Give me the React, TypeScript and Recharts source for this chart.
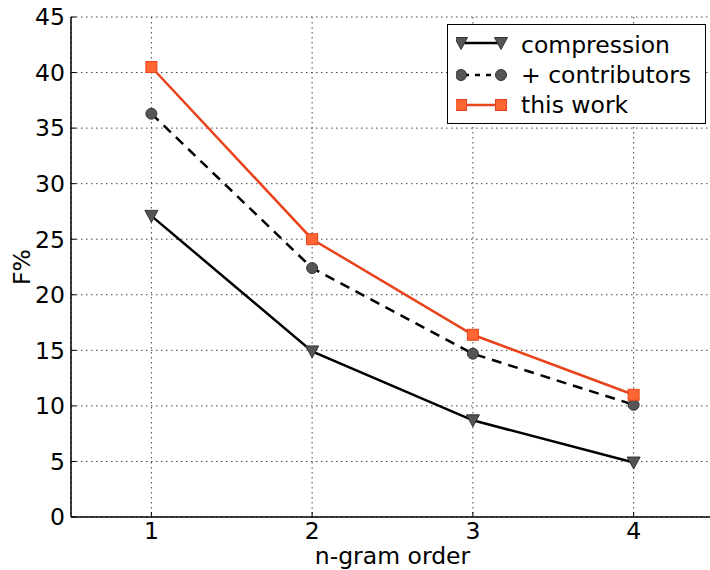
import React from "react";
import {
  LineChart,
  Line,
  XAxis,
  YAxis,
  CartesianGrid,
  Legend,
} from "recharts";

const orders = [1, 2, 3, 4];
const compression = [27.1, 14.9, 8.7, 4.9];
const contributors = [36.3, 22.4, 14.7, 10.1];
const thisWork = [40.5, 25.0, 16.4, 11.0];

const yTicks = [0, 5, 10, 15, 20, 25, 30, 35, 40, 45];
const xTicks = [1, 2, 3, 4];

const FONT = "'DejaVu Sans', sans-serif";
const FS = 23.5;
const ORANGE_LINE = "#e8431a";
const ORANGE_FILL = "#ff6633";
const GREY_FILL = "#555555";

const data = orders.map((n, i) => ({
  order: n,
  compression: compression[i],
  contributors: contributors[i],
  thisWork: thisWork[i],
}));

const TriangleDot = (props: any) => {
  const { cx, cy, index } = props;
  if (cx == null || cy == null) return <g key={`t${index}`} />;
  return (
    <path
      key={`t${index}`}
      d={`M${cx - 6.5},${cy - 5.5} L${cx + 6.5},${cy - 5.5} L${cx},${cy + 6.5} Z`}
      fill={GREY_FILL}
      stroke="#333"
      strokeWidth={1}
    />
  );
};

const CircleDot = (props: any) => {
  const { cx, cy, index } = props;
  if (cx == null || cy == null) return <g key={`c${index}`} />;
  return (
    <circle key={`c${index}`} cx={cx} cy={cy} r={5.5} fill={GREY_FILL} stroke="#333" strokeWidth={1} />
  );
};

const SquareDot = (props: any) => {
  const { cx, cy, index } = props;
  if (cx == null || cy == null) return <g key={`s${index}`} />;
  return (
    <rect
      key={`s${index}`}
      x={cx - 5.5}
      y={cy - 5.5}
      width={11}
      height={11}
      fill={ORANGE_FILL}
      stroke={ORANGE_LINE}
      strokeWidth={1}
    />
  );
};

const legendItems = [
  { label: "compression", kind: "tri" },
  { label: "+ contributors", kind: "circ" },
  { label: "this work", kind: "sq" },
];

function LegendBox() {
  return (
    <div
      style={{
        width: 259,
        height: 100,
        border: "1.5px solid #000",
        background: "#fff",
        boxSizing: "border-box",
        paddingTop: 5,
        fontFamily: FONT,
        fontSize: FS,
        color: "#000",
        lineHeight: "30px",
      }}
    >
      {legendItems.map((it) => (
        <div key={it.label} style={{ display: "flex", alignItems: "center", height: 30 }}>
          <svg width={64} height={20} style={{ marginLeft: 8, flex: "none" }}>
            {it.kind === "tri" && (
              <g>
                <line x1={5} y1={8} x2={45} y2={8} stroke="#000" strokeWidth={2.5} />
                <TriangleDot cx={5} cy={8} index={0} />
                <TriangleDot cx={45} cy={8} index={1} />
              </g>
            )}
            {it.kind === "circ" && (
              <g>
                <line x1={5} y1={10} x2={45} y2={10} stroke="#000" strokeWidth={2.5} strokeDasharray="5 6" strokeDashoffset={-3} />
                <CircleDot cx={5} cy={10} index={0} />
                <CircleDot cx={45} cy={10} index={1} />
              </g>
            )}
            {it.kind === "sq" && (
              <g>
                <line x1={5} y1={10} x2={45} y2={10} stroke={ORANGE_LINE} strokeWidth={2.5} />
                <SquareDot cx={5} cy={10} index={0} />
                <SquareDot cx={45} cy={10} index={1} />
              </g>
            )}
          </svg>
          <span style={{ marginLeft: 1, whiteSpace: "nowrap" }}>{it.label}</span>
        </div>
      ))}
    </div>
  );
}

export default function App() {
  const tickStyle = { fontSize: FS, fill: "#000", fontFamily: FONT };
  return (
    <div
      style={{
        position: "fixed",
        top: 0,
        left: 0,
        width: 710,
        height: 570,
        overflow: "hidden",
        background: "#fff",
      }}
    >
      <LineChart
        width={720}
        height={570}
        data={data}
        margin={{ top: 17, right: 6, left: 21, bottom: 0 }}
      >
        <CartesianGrid stroke="#444" strokeDasharray="1.5 3.5" strokeWidth={1} />
        <XAxis
          dataKey="order"
          type="number"
          domain={[0.5, 4.5]}
          ticks={xTicks}
          allowDataOverflow
          height={53}
          tick={tickStyle}
          tickSize={-5}
          tickMargin={10}
          tickLine={{ stroke: "#000" }}
          axisLine={{ stroke: "#000", strokeWidth: 1.5 }}
          label={{
            value: "n-gram order",
            position: "insideBottom",
            offset: 6,
            style: { fontSize: FS, fill: "#000", fontFamily: FONT },
          }}
        />
        <XAxis
          xAxisId="top"
          dataKey="order"
          type="number"
          orientation="top"
          domain={[0.5, 4.5]}
          ticks={xTicks}
          allowDataOverflow
          height={0}
          tick={false}
          tickSize={-5}
          tickLine={{ stroke: "#000" }}
          axisLine={{ stroke: "#000", strokeWidth: 1.5 }}
        />
        <YAxis
          domain={[0, 45]}
          ticks={yTicks}
          width={50}
          tick={tickStyle}
          tickSize={-5}
          tickMargin={11}
          tickLine={{ stroke: "#000" }}
          axisLine={{ stroke: "#000", strokeWidth: 1.5 }}
          label={{
            value: "F%",
            angle: -90,
            position: "center",
            dx: -24,
            style: { fontSize: FS, fill: "#000", fontFamily: FONT },
          }}
        />
        <YAxis
          yAxisId="right"
          orientation="right"
          domain={[0, 45]}
          ticks={yTicks}
          width={0}
          tick={false}
          tickSize={-5}
          tickLine={{ stroke: "#000" }}
          axisLine={{ stroke: "#000", strokeWidth: 1.5 }}
        />
        <Legend
          layout="horizontal"
          verticalAlign="middle"
          align="center"
          content={() => <LegendBox />}
          wrapperStyle={{ position: "absolute", top: 24, left: 447, width: 259, height: 100 }}
        />
        <Line
          dataKey="compression"
          stroke="#000"
          strokeWidth={2.5}
          dot={TriangleDot}
          activeDot={false}
          isAnimationActive={false}
        />
        <Line
          dataKey="contributors"
          stroke="#000"
          strokeWidth={2.5}
          strokeDasharray="10 7"
          dot={CircleDot}
          activeDot={false}
          isAnimationActive={false}
        />
        <Line
          dataKey="thisWork"
          stroke={ORANGE_LINE}
          strokeWidth={2.5}
          dot={SquareDot}
          activeDot={false}
          isAnimationActive={false}
        />
      </LineChart>
    </div>
  );
}
